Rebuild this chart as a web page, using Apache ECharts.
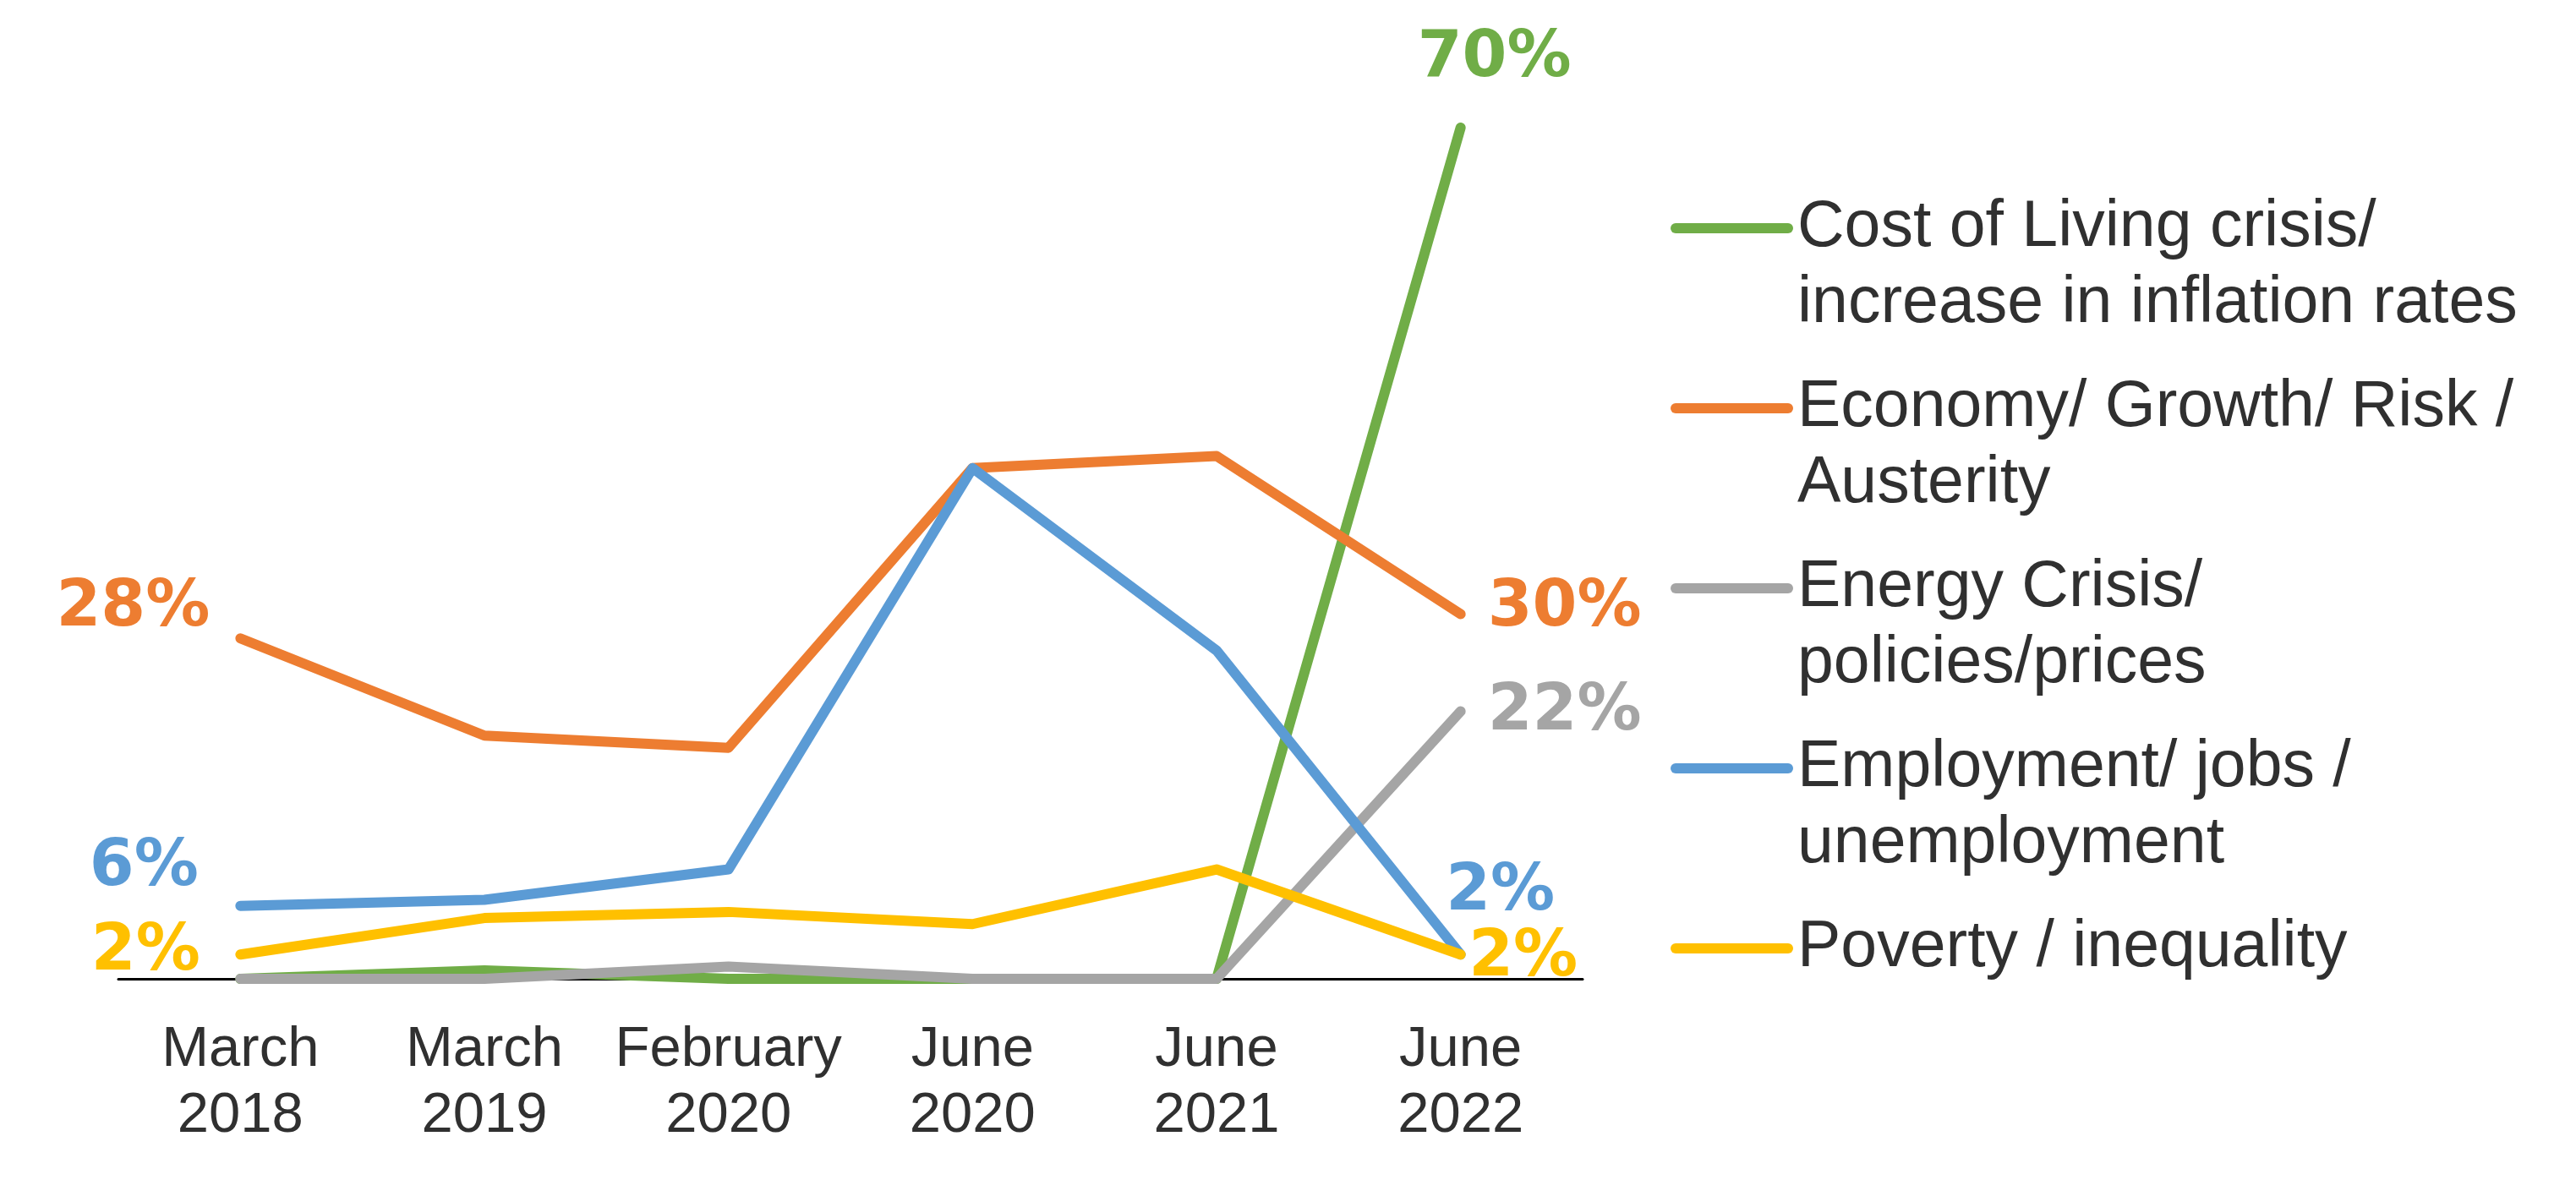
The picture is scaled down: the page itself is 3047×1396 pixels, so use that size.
<!DOCTYPE html>
<html><head><meta charset="utf-8">
<script src="https://cdn.jsdelivr.net/npm/echarts@6/dist/echarts.min.js"></script>
<style>html,body{margin:0;padding:0;background:#fff}#c{width:3047px;height:1396px}</style>
</head><body><div id="c"></div>
<script>
// ---- data ----
const categories = ['March\n2018', 'March\n2019', 'February\n2020', 'June\n2020', 'June\n2021', 'June\n2022'];
const seriesNames = [
  'Cost of Living crisis/\nincrease in inflation rates',
  'Economy/ Growth/ Risk /\nAusterity',
  'Energy Crisis/\npolicies/prices',
  'Employment/ jobs /\nunemployment',
  'Poverty / inequality'
];
const costOfLiving = [0, 0.7, 0, 0, 0, 70];
const economy      = [28, 20, 19, 42, 43, 30];
const energy       = [0, 0, 1, 0, 0, 22];
const employment   = [6, 6.5, 9, 42, 27, 2];
const poverty      = [2, 5, 5.5, 4.5, 9, 2];

// ---- styling / layout ----
const colors = ['#70AD47', '#ED7D31', '#A5A5A5', '#5B9BD5', '#FFC000'];
const labelOffsets = [
  {5: [40, -81]},
  {0: [-127, -35], 5: [123, -6]},
  {5: [123, 2]},
  {0: [-114, -44], 5: [47, -73]},
  {0: [-112, -2], 5: [74, 5]}
];
const values = [costOfLiving, economy, energy, employment, poverty];
const LH = 90;

const chart = echarts.init(document.getElementById('c'), null, {renderer: 'canvas'});
chart.setOption({
  animation: false,
  backgroundColor: '#ffffff',
  grid: {left: 140, right: 1175, top: 151, bottom: 238, containLabel: false},
  xAxis: {
    type: 'category', data: categories, boundaryGap: true,
    axisTick: {show: false},
    axisLine: {lineStyle: {color: '#000', width: 3}},
    axisLabel: {
      interval: 0, fontSize: 67, lineHeight: 78, color: '#303030', margin: 46,
      fontFamily: "'Liberation Sans',Arial,sans-serif"
    }
  },
  yAxis: {type: 'value', min: 0, max: 70, show: false},
  legend: {
    orient: 'vertical', left: 1976, top: 135, padding: 0, itemGap: -57,
    itemWidth: 145, itemHeight: 12,
    icon: 'path://M6,0H139A6,6,0,0,1,139,12H6A6,6,0,0,1,6,0Z',
    itemStyle: {borderWidth: 0},
    textStyle: {fontSize: 77, lineHeight: LH, color: '#303030', fontFamily: "'Liberation Sans',Arial,sans-serif"},
    // an empty line above (and below for one-line names) keeps the first text line level with the icon
    formatter: name => name.indexOf('\n') >= 0 ? '\n' + name : '\n' + name + '\n',
    data: seriesNames
  },
  series: seriesNames.map((n, i) => ({
    name: n, type: 'line',
    data: values[i].map((v, j) => labelOffsets[i][j]
      ? {value: v, label: {show: true, offset: labelOffsets[i][j]}}
      : v),
    symbol: 'circle', symbolSize: 1, showSymbol: true,
    lineStyle: {color: colors[i], width: 12, cap: 'round', join: 'round'},
    itemStyle: {color: colors[i], borderWidth: 0},
    label: {
      show: false, position: 'inside', formatter: '{c}%', color: colors[i],
      fontSize: 76, fontWeight: 'bold', fontFamily: "'DejaVu Sans',sans-serif"
    },
    emphasis: {disabled: true},
    z: 2 + i
  }))
});
</script></body></html>
